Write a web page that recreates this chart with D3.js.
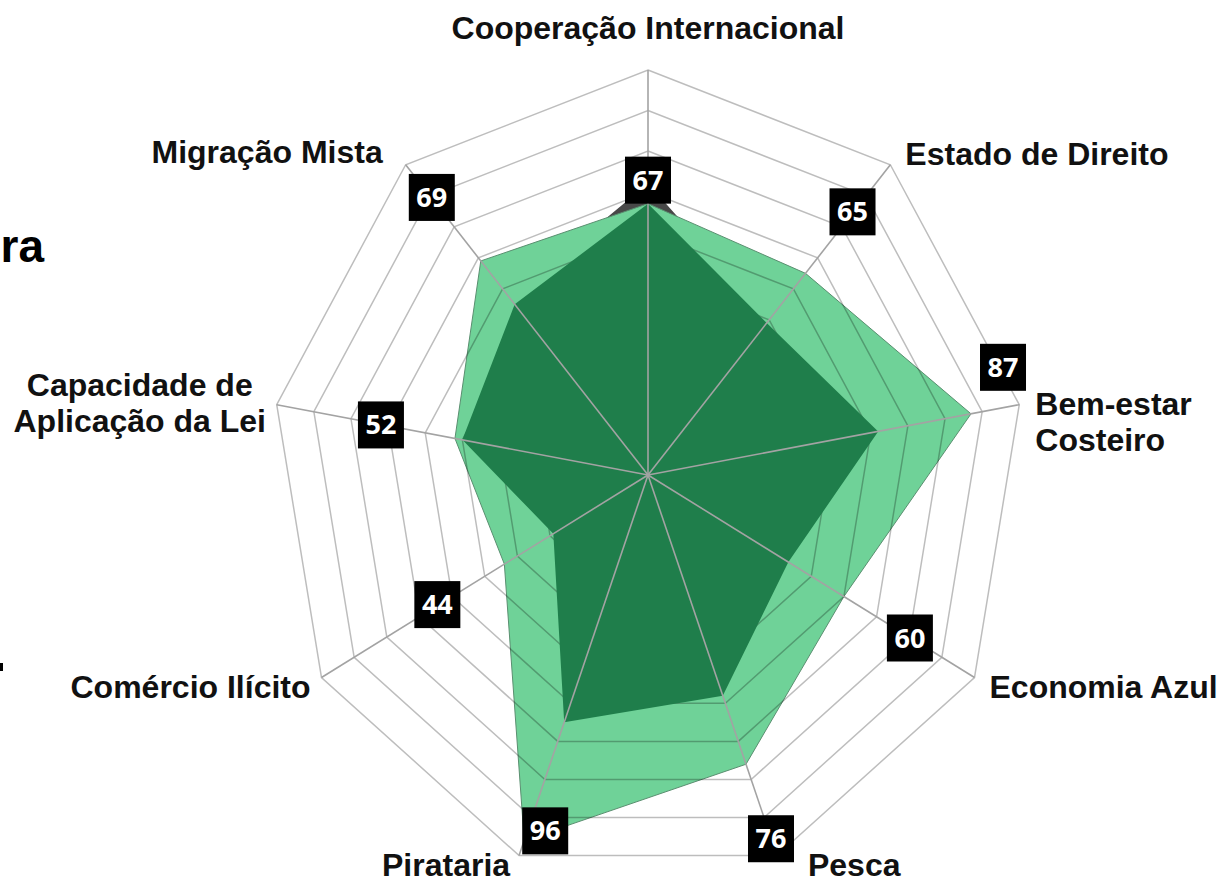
<!DOCTYPE html>
<html>
<head>
<meta charset="utf-8">
<script src="https://cdn.jsdelivr.net/npm/d3@7"></script>
<style>
	html, body { margin: 0; padding: 0; background: #fff; }
	#wrapper { width: 1220px; height: 884px; overflow: hidden; }
</style>
</head>
<body>
<div id="wrapper"></div>
<script>
const categories = ["Cooperação Internacional", "Estado de Direito", "Bem-estar\nCosteiro", "Economia Azul", "Pesca", "Pirataria", "Comércio Ilícito", "Capacidade de\nAplicação da Lei", "Migração Mista"];
const scoreValues = [67, 65, 87, 60, 76, 96, 44, 52, 69];
const regionValues = [67, 49, 62, 43, 58, 65, 29, 50, 55];
const grayValues = [72, 50, 40, 40, 40, 40, 30, 40, 57];
const ringLevels = [10, 20, 30, 40, 50, 60, 70, 80, 90, 100];

function drawRadar(){
	let dimensions = {
		width: 1220,
		height: 884,
		cx: 648,
		cy: 475,
		radiusX: 377,
		radiusY: 405
	};

	// offsets of the value boxes from their point, and of the axis names from the outer ring
	const boxOffset = [[0,-24],[47,-62],[32,-47],[66,41],[25,74],[21,-10],[-67,40],[-74,-14],[-49,-64]];
	const nameOffset = [[0,-31,"middle"],[15,0,"start"],[16,10,"start"],[15,20,"start"],[31,20,"start"],[-9,20,"end"],[-11,20,"end"],[-137,-9,"middle"],[-23,-2,"end"]];

	const wrapper = d3.select("#wrapper").append("svg")
					.attr("width", dimensions.width)
					.attr("height", dimensions.height);

	const bounds = wrapper.append("g")
					.attr("transform", `translate(${dimensions.cx},${dimensions.cy})`);

	const angleScaler = d3.scaleLinear()
					.domain([0, categories.length])
					.range([0, 2 * Math.PI]);
	const xScaler = d3.scaleLinear().domain([0, 100]).range([0, dimensions.radiusX]);
	const yScaler = d3.scaleLinear().domain([0, 100]).range([0, dimensions.radiusY]);

	const point = (v, i) => [
		xScaler(v) * Math.sin(angleScaler(i)),
		-yScaler(v) * Math.cos(angleScaler(i))
	];
	const polygon = d3.line().curve(d3.curveLinearClosed);

	// gray series sits at the back, only its tip shows
	bounds.append("path")
		.attr("d", polygon(grayValues.map(point)))
		.attr("fill", "#484848");

	bounds.append("path")
		.attr("d", polygon(scoreValues.map(point)))
		.attr("fill", "#6fd298")
		.attr("stroke", "#5a8f70")
		.attr("stroke-width", 1);

	const rings = bounds.append("g");
	rings.selectAll("path")
		.data(ringLevels)
		.enter()
		.append("path")
		.attr("d", lvl => polygon(categories.map((c, i) => point(lvl, i))))
		.attr("fill", "none")
		.attr("stroke", "rgba(0,0,0,0.26)")
		.attr("stroke-width", 1.5);

	bounds.append("path")
		.attr("d", polygon(regionValues.map(point)))
		.attr("fill", "#1f7e4b");

	const spokes = bounds.append("g");
	spokes.selectAll("line")
		.data(categories)
		.enter()
		.append("line")
		.attr("x1", 0)
		.attr("y1", 0)
		.attr("x2", (d, i) => point(100, i)[0])
		.attr("y2", (d, i) => point(100, i)[1])
		.attr("stroke", "#a3a3a3")
		.attr("stroke-width", 1.6);

	// axis names
	const names = bounds.append("g")
		.selectAll("text")
		.data(categories)
		.enter()
		.append("text")
		.attr("x", (d, i) => point(100, i)[0] + nameOffset[i][0])
		.attr("y", (d, i) => point(100, i)[1] + nameOffset[i][1])
		.attr("text-anchor", (d, i) => nameOffset[i][2])
		.attr("font-family", "'Liberation Sans', Arial, sans-serif")
		.attr("font-weight", "bold")
		.attr("font-size", "32px")
		.attr("fill", "#111");
	names.selectAll("tspan")
		.data(d => d.split("\n").map((t, k) => ({t, k})))
		.enter()
		.append("tspan")
		.attr("x", function(){ return d3.select(this.parentNode).attr("x"); })
		.attr("dy", d => d.k === 0 ? 0 : 36)
		.text(d => d.t);

	// value boxes
	const boxes = bounds.append("g")
		.selectAll("g")
		.data(scoreValues)
		.enter()
		.append("g")
		.attr("transform", (d, i) => {
			const p = point(d, i);
			return `translate(${p[0] + boxOffset[i][0]},${p[1] + boxOffset[i][1]})`;
		});
	boxes.append("rect")
		.attr("x", -23)
		.attr("y", -23)
		.attr("width", 46)
		.attr("height", 47)
		.attr("fill", "#000");
	boxes.append("text")
		.attr("y", 10)
		.attr("text-anchor", "middle")
		.attr("font-family", "'Open Sans', sans-serif")
		.attr("font-weight", "bold")
		.attr("font-size", "27px")
		.attr("fill", "#fff")
		.text(d => d);

	// cut-off bits of the surrounding page
	wrapper.append("text")
		.attr("x", 44)
		.attr("y", 262)
		.attr("text-anchor", "end")
		.attr("font-family", "'Liberation Sans', Arial, sans-serif")
		.attr("font-weight", "bold")
		.attr("font-size", "46px")
		.text("ra");
	wrapper.append("rect")
		.attr("x", 0)
		.attr("y", 663)
		.attr("width", 3)
		.attr("height", 8)
		.attr("fill", "#000");
}

drawRadar();
</script>
</body>
</html>
